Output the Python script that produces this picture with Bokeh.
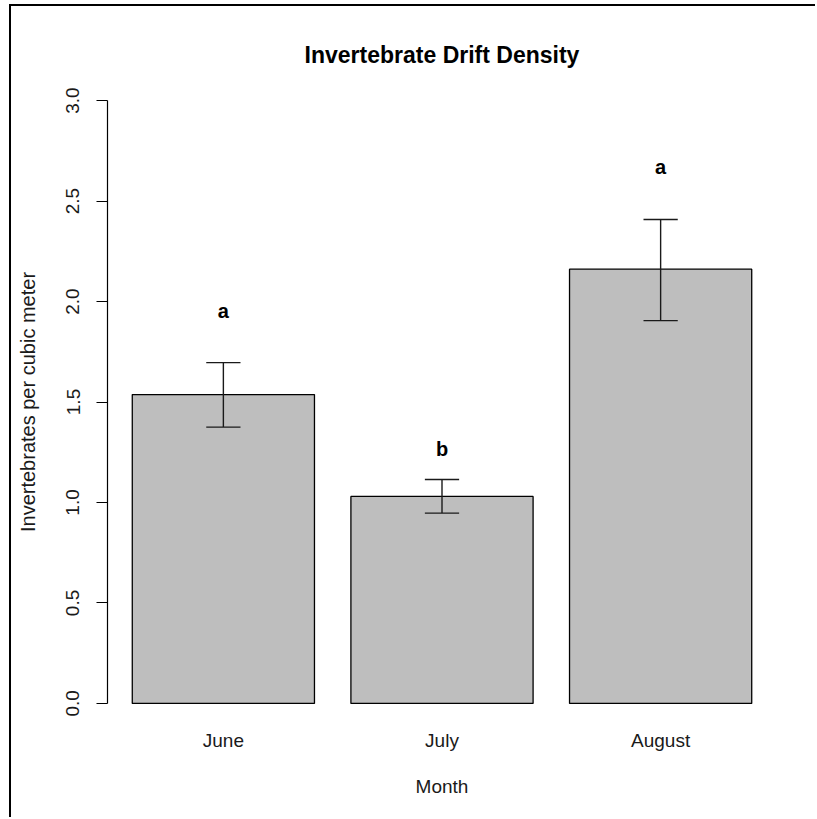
from bokeh.plotting import figure
from bokeh.models import Range1d, FixedTicker, PrintfTickFormatter, ColumnDataSource
from bokeh.core.properties import value
from bokeh.embed import file_html
from bokeh.resources import INLINE

months = ["June", "July", "August"]
means = [1.537, 1.030, 2.161]
err_upper = [1.696, 1.114, 2.408]
err_lower = [1.375, 0.947, 1.905]
letters = ["a", "b", "a"]
letter_y = [1.952, 1.264, 2.670]
y_ticks = [0.0, 0.5, 1.0, 1.5, 2.0, 2.5, 3.0]

# R barplot positions: width 1, space 0.2
xs = [0.2 + 1.2 * i + 0.5 for i in range(len(months))]
cap = 0.094

FONT = "Liberation Sans"

p = figure(width=806, height=813, output_backend="svg", toolbar_location=None,
           x_range=Range1d(0.064, 3.736), y_range=Range1d(-0.12, 3.12),
           title="Invertebrate Drift Density")
p.min_border_left = 96
p.min_border_right = 41
p.min_border_top = 70
p.min_border_bottom = 92
p.outline_line_color = None
p.xgrid.grid_line_color = None
p.ygrid.grid_line_color = None
p.background_fill_color = "white"
p.border_fill_color = "white"
p.styles = {"margin-left": "9px", "margin-top": "4px",
            "border-left": "2px solid black", "border-top": "2px solid black"}

p.title.text_font = FONT
p.title.text_font_size = "23px"
p.title.text_font_style = "bold"
p.title.align = "center"
p.title.text_color = "black"
p.title.standoff = 17

src = ColumnDataSource(dict(x=xs, top=means, up=err_upper, lo=err_lower,
                            xl=[x - cap for x in xs], xr=[x + cap for x in xs],
                            lab=letters, ly=letter_y))

p.vbar(x="x", top="top", bottom=0, width=1.0, source=src,
       fill_color="#BEBEBE", line_color="black", line_width=1.3)
p.segment(x0="x", y0="lo", x1="x", y1="up", source=src, line_color="#1a1a1a", line_width=1.4)
p.segment(x0="xl", y0="up", x1="xr", y1="up", source=src, line_color="#1a1a1a", line_width=1.4)
p.segment(x0="xl", y0="lo", x1="xr", y1="lo", source=src, line_color="#1a1a1a", line_width=1.4)
p.text(x="x", y="ly", text="lab", source=src, text_align="center",
       text_baseline="alphabetic", text_font=value(FONT), text_font_size="20px",
       text_font_style="bold", text_color="black")

# x axis: labels only
xa = p.xaxis[0]
xa.ticker = FixedTicker(ticks=xs)
xa.major_label_overrides = {x: m for x, m in zip(xs, months)}
xa.axis_line_color = None
xa.major_tick_line_color = None
xa.major_tick_in = 0
xa.major_tick_out = 0
xa.minor_tick_line_color = None
xa.major_label_text_font = FONT
xa.major_label_text_font_size = "19px"
xa.major_label_text_color = "#1a1a1a"
xa.major_label_standoff = 2
xa.axis_label = "Month"
xa.axis_label_text_font = FONT
xa.axis_label_text_font_size = "19px"
xa.axis_label_text_font_style = "normal"
xa.axis_label_text_color = "#1a1a1a"
xa.axis_label_standoff = 22

ya = p.yaxis[0]
ya.ticker = FixedTicker(ticks=y_ticks)
ya.formatter = PrintfTickFormatter(format="%.1f")
ya.bounds = (0, 3)
ya.axis_line_color = "black"
ya.axis_line_width = 1.2
ya.major_tick_line_color = "black"
ya.major_tick_line_width = 1.2
ya.major_tick_in = 0
ya.major_tick_out = 11
ya.minor_tick_line_color = None
ya.major_label_orientation = "parallel"
ya.major_label_text_font = FONT
ya.major_label_text_font_size = "19px"
ya.major_label_text_color = "#1a1a1a"
ya.major_label_standoff = 17
ya.axis_label = "Invertebrates per cubic meter"
ya.axis_label_text_font = FONT
ya.axis_label_text_font_size = "20px"
ya.axis_label_text_font_style = "normal"
ya.axis_label_text_color = "#1a1a1a"
ya.axis_label_standoff = 25

open("out.html", "w").write(file_html(p, INLINE))
